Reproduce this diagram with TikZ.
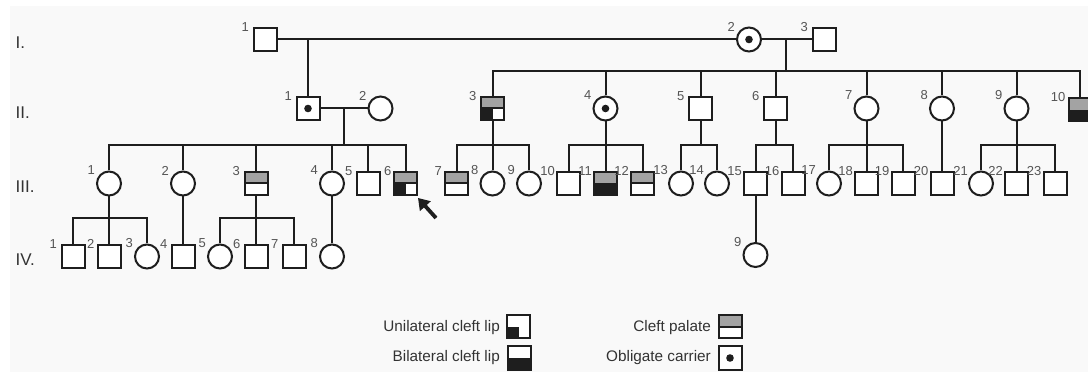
\documentclass[tikz,border=0pt]{standalone}
\usepackage{fontspec}
\setmainfont{Liberation Sans}
\usetikzlibrary{arrows.meta,calc}
\definecolor{bgc}{HTML}{F9F9F9}
\definecolor{cpgray}{HTML}{A3A3A3}
\definecolor{numgray}{HTML}{555555}
\definecolor{linec}{HTML}{1E1E1E}
\definecolor{txtc}{HTML}{333333}
\newcommand{\plab}[3]{\node[numlab] (lab-#1) at ($(#1.west |- #1.north)+(#3,0)$) {#2};}
\begin{document}
\begin{tikzpicture}[x=1pt,y=-1pt,
  conn/.style={line width=2pt, draw=linec},
  male/.style={rectangle, draw=linec, line width=2pt, fill=white, minimum size=23pt, inner sep=0pt},
  female/.style={circle, draw=linec, line width=2pt, fill=white, minimum size=24pt, inner sep=0pt},
  cp/.style={path picture={\fill[cpgray] (path picture bounding box.north west) rectangle (path picture bounding box.east);
     \draw[linec, line width=2pt] (path picture bounding box.west) -- (path picture bounding box.east);}},
  cpucl/.style={path picture={\fill[cpgray] (path picture bounding box.north west) rectangle (path picture bounding box.east);
     \fill[linec] (path picture bounding box.south west) rectangle (path picture bounding box.center);
     \draw[linec, line width=2pt] (path picture bounding box.west) -- (path picture bounding box.east);}},
  cpbcl/.style={path picture={\fill[cpgray] (path picture bounding box.north west) rectangle (path picture bounding box.east);
     \fill[linec] (path picture bounding box.west) rectangle (path picture bounding box.south east);}},
  ucl/.style={path picture={\fill[linec] (path picture bounding box.south west) rectangle (path picture bounding box.center);}},
  bcl/.style={path picture={\fill[linec] (path picture bounding box.west) rectangle (path picture bounding box.south east);}},
  carrier/.style={path picture={\fill[linec] (path picture bounding box.center) circle (3.8pt);}},
  numlab/.style={font=\fontsize{13}{13}\selectfont, text=numgray, inner sep=0pt, anchor=east},
  genlab/.style={font=\fontsize{17}{17}\selectfont, text=txtc, inner sep=0pt, anchor=west},
  legtext/.style={font=\fontsize{15.3}{15.3}\selectfont, text=txtc, inner sep=0pt, anchor=east}
]
\useasboundingbox (0,0) rectangle (1088,374);
\fill[white] (0,0) rectangle (1088,374);
\fill[bgc] (10,6) rectangle (1088,372);

% generation labels
\node[genlab] (gI) at (15.5,43) {I.};
\node[genlab] (gII) at (15.5,113) {II.};
\node[genlab] (gIII) at (15.5,187) {III.};
\node[genlab] (gIV) at (15.5,260) {IV.};

% ---------- Generation I
\node[male] (I1) at (265,39.5) {};
\node[female, carrier] (I2) at (749,39.5) {};
\node[male] (I3) at (824,39.5) {};

% ---------- Generation II
\node[male, carrier] (II1) at (308,108.5) {};
\node[female] (II2) at (380.5,108.5) {};
\node[male, cpucl] (II3) at (492.5,108.5) {};
\node[female, carrier] (II4) at (605.5,108.5) {};
\node[male] (II5) at (700.5,108.5) {};
\node[male] (II6) at (775.5,108.5) {};
\node[female] (II7) at (866.5,108.5) {};
\node[female] (II8) at (942,108.5) {};
\node[female] (II9) at (1016.5,108.5) {};
\node[male, cpbcl] (II10) at (1080,110) {};

% ---------- Generation III
\node[female] (III1) at (109,183.5) {};
\node[female] (III2) at (183,183.5) {};
\node[male, cp] (III3) at (256,183.5) {};
\node[female] (III4) at (332,183.5) {};
\node[male] (III5) at (368,183.5) {};
\node[male, cpucl] (III6) at (405.5,183.5) {};
\node[male, cp] (III7) at (456.5,183.5) {};
\node[female] (III8) at (492.5,183.5) {};
\node[female] (III9) at (529,183.5) {};
\node[male] (III10) at (568.5,183.5) {};
\node[male, cpbcl] (III11) at (605.5,183.5) {};
\node[male, cp] (III12) at (642.5,183.5) {};
\node[female] (III13) at (681,183.5) {};
\node[female] (III14) at (717,183.5) {};
\node[male] (III15) at (755.5,183.5) {};
\node[male] (III16) at (793,183.5) {};
\node[female] (III17) at (829,183.5) {};
\node[male] (III18) at (866.5,183.5) {};
\node[male] (III19) at (903,183.5) {};
\node[male] (III20) at (942,183.5) {};
\node[female] (III21) at (981,183.5) {};
\node[male] (III22) at (1016.5,183.5) {};
\node[male] (III23) at (1055,183.5) {};

% ---------- Generation IV
\node[male] (IV1) at (73,256.5) {};
\node[male] (IV2) at (109,256.5) {};
\node[female] (IV3) at (147,256.5) {};
\node[male] (IV4) at (183,256.5) {};
\node[female] (IV5) at (220,256.5) {};
\node[male] (IV6) at (256,256.5) {};
\node[male] (IV7) at (294,256.5) {};
\node[female] (IV8) at (332,256.5) {};
\node[female] (IV9) at (755.5,255) {};

% ---------- connectors
\draw[conn] (I1) -- (I2);
\draw[conn] (I2) -- (I3);
\coordinate (m1) at (308,39.5);
\draw[conn] (m1) -- (II1);
\coordinate (m2) at (786,39.5);
\coordinate (s2) at (786,71);
\draw[conn] (m2) -- (s2);
\draw[conn] (II3) -- (II3 |- s2) -- (II10 |- s2) -- (II10);
\foreach \n in {II4,II5,II6,II7,II8,II9} {\draw[conn] (\n |- s2) -- (\n);}

\draw[conn] (II1) -- (II2);
\coordinate (m3) at (344,108.5);
\coordinate (s3) at (344,145);
\draw[conn] (m3) -- (s3);
\draw[conn] (III1) -- (III1 |- s3) -- (III6 |- s3) -- (III6);
\foreach \n in {III2,III3,III4,III5} {\draw[conn] (\n |- s3) -- (\n);}

\coordinate (s4) at (492.5,145);
\draw[conn] (II3) -- (III8);
\draw[conn] (III7) -- (III7 |- s4) -- (III9 |- s4) -- (III9);

\coordinate (s5) at (605.5,145);
\draw[conn] (II4) -- (III11);
\draw[conn] (III10) -- (III10 |- s5) -- (III12 |- s5) -- (III12);

\coordinate (s6) at (700.5,145);
\draw[conn] (II5) -- (s6);
\draw[conn] (III13) -- (III13 |- s6) -- (III14 |- s6) -- (III14);

\coordinate (s7) at (775.5,145);
\draw[conn] (II6) -- (s7);
\draw[conn] (III15) -- (III15 |- s7) -- (III16 |- s7) -- (III16);

\coordinate (s8) at (866.5,145);
\draw[conn] (II7) -- (III18);
\draw[conn] (III17) -- (III17 |- s8) -- (III19 |- s8) -- (III19);

\draw[conn] (II8) -- (III20);

\coordinate (s9) at (1016.5,145);
\draw[conn] (II9) -- (III22);
\draw[conn] (III21) -- (III21 |- s9) -- (III23 |- s9) -- (III23);

\coordinate (s10) at (109,218);
\draw[conn] (III1) -- (IV2);
\draw[conn] (IV1) -- (IV1 |- s10) -- (IV3 |- s10) -- (IV3);
\draw[conn] (III2) -- (IV4);
\coordinate (s11) at (256,218);
\draw[conn] (III3) -- (IV6);
\draw[conn] (IV5) -- (IV5 |- s11) -- (IV7 |- s11) -- (IV7);
\draw[conn] (III4) -- (IV8);
\draw[conn] (III15) -- (IV9);

% ---------- number labels
\plab{I1}{1}{-3.5} \plab{I2}{2}{-1} \plab{I3}{3}{-3.5}
\plab{II1}{1}{-3.5} \plab{II2}{2}{-1} \plab{II3}{3}{-3.5} \plab{II4}{4}{-1}
\plab{II5}{5}{-3.5} \plab{II6}{6}{-3.5} \plab{II7}{7}{-1} \plab{II8}{8}{-1}
\plab{II9}{9}{-1} \plab{II10}{10}{-2}
\plab{III1}{1}{-1} \plab{III2}{2}{-1} \plab{III3}{3}{-3.5} \plab{III4}{4}{-1}
\plab{III5}{5}{-3} \plab{III6}{6}{-1.5} \plab{III7}{7}{-2} \plab{III8}{8}{-1}
\plab{III9}{9}{-1} \plab{III10}{10}{-1} \plab{III11}{11}{-1} \plab{III12}{12}{-1}
\plab{III13}{13}{0} \plab{III14}{14}{0} \plab{III15}{15}{-1} \plab{III16}{16}{-1}
\plab{III17}{17}{0} \plab{III18}{18}{-1} \plab{III19}{19}{-1} \plab{III20}{20}{-1}
\plab{III21}{21}{0} \plab{III22}{22}{-1} \plab{III23}{23}{-1}
\plab{IV1}{1}{-3.5} \plab{IV2}{2}{-2} \plab{IV3}{3}{-1} \plab{IV4}{4}{-3}
\plab{IV5}{5}{-1} \plab{IV6}{6}{-3} \plab{IV7}{7}{-3} \plab{IV8}{8}{-1}
\plab{IV9}{9}{-1}

% ---------- proband arrow
\coordinate (arT) at (436,218);
\coordinate (arH) at (418,198);
\draw[line width=3.8pt, draw=linec, -{Triangle[length=11pt,width=14pt]}] (arT) -- (arH);

% ---------- legend
\node[male, ucl] (LU) at (518.5,327) {};
\node[legtext] (tU) at (500,328) {Unilateral cleft lip};
\node[male, bcl] (LB) at (519,358) {};
\node[legtext] (tB) at (500,358) {Bilateral cleft lip};
\node[male, cp] (LC) at (730,327) {};
\node[legtext] (tC) at (711,328) {Cleft palate};
\node[male, carrier] (LO) at (730,358) {};
\node[legtext] (tO) at (711,358) {Obligate carrier};
\end{tikzpicture}
\end{document}
